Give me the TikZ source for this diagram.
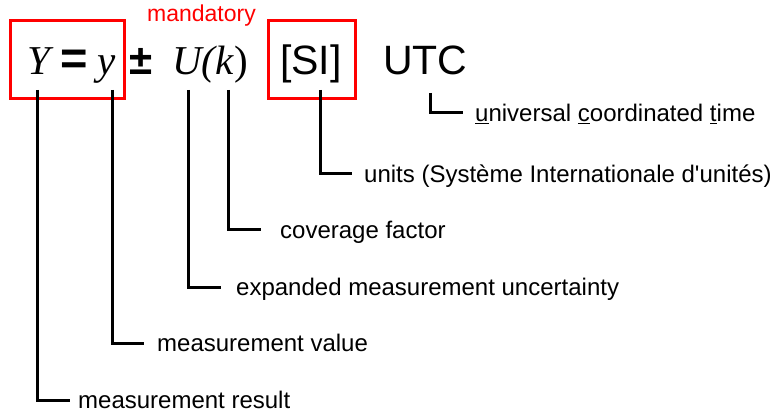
\documentclass[tikz,border=0pt]{standalone}
\usepackage{fontspec}
\setmainfont{Liberation Sans}
\newfontfamily\serifface{Liberation Serif}
\begin{document}
\begin{tikzpicture}[x=1pt,y=-1pt,
  big/.style={inner sep=0pt,anchor=base west,font=\fontsize{41}{41}\selectfont},
  bigit/.style={big,font=\fontsize{41}{41}\selectfont\serifface\itshape},
  bigbf/.style={big,font=\fontsize{47}{47}\selectfont\bfseries},
  lab/.style={inner sep=0pt,anchor=base west,font=\fontsize{24}{24}\selectfont},
  lead/.style={line width=3pt,line cap=butt,line join=miter},
  mark box/.style={draw=red,line width=3pt}]
\useasboundingbox (0,0) rectangle (774,414);

% mandatory parts of the statement
\draw[mark box] (10.5,20.5) rectangle (124.5,98.5);
\draw[mark box] (268.5,20.5) rectangle (355.5,98.5);
\node[inner sep=0pt,anchor=base,text=red,font=\fontsize{23}{23}\selectfont] (mand) at (201.5,22) {mandatory};

% the statement itself
\node[bigit] (Ysym) at (27,75) {Y};
\node[bigbf] (eq) at (60,75) {=};
\node[bigit] (ysym) at (97,75) {y};
\node[bigbf] (pm) at (129,75) {\fontsize{42}{42}\selectfont ±};
\node[bigit] (Usym) at (172,75) {U(k\textup{)}};
\node[big] (SI) at (280,75) {[SI]};
\node[big] (UTC) at (383,75) {UTC};

% explanations
\node[lab] (lUTC) at (475,121.5) {\underline{u}niversal \underline{c}oordinated \underline{t}ime};
\node[lab] (lSI) at (364,182.5) {units (Système Internationale d\textquotesingle unités)};
\node[lab] (lk) at (280,238.5) {coverage factor};
\node[lab] (lU) at (236,295.5) {expanded measurement uncertainty};
\node[lab] (ly) at (157,351.5) {measurement value};
\node[lab] (lY) at (78,408.5) {measurement result};

% leader lines
\coordinate (tY) at (37,90);   \coordinate (eY) at (70,400);
\coordinate (ty) at (112,90);  \coordinate (ey) at (144,343);
\coordinate (tU) at (188,90);  \coordinate (eU) at (221,287);
\coordinate (tk) at (228,90);  \coordinate (ek) at (261,230);
\coordinate (tS) at (320,90);  \coordinate (eS) at (352,174);
\coordinate (tT) at (430,93);  \coordinate (eT) at (463,113);

\draw[lead] (tY) |- (eY);
\draw[lead] (ty) |- (ey);
\draw[lead] (tU) |- (eU);
\draw[lead] (tk) |- (ek);
\draw[lead] (tS) |- (eS);
\draw[lead] (tT) |- (eT);
\end{tikzpicture}
\end{document}
